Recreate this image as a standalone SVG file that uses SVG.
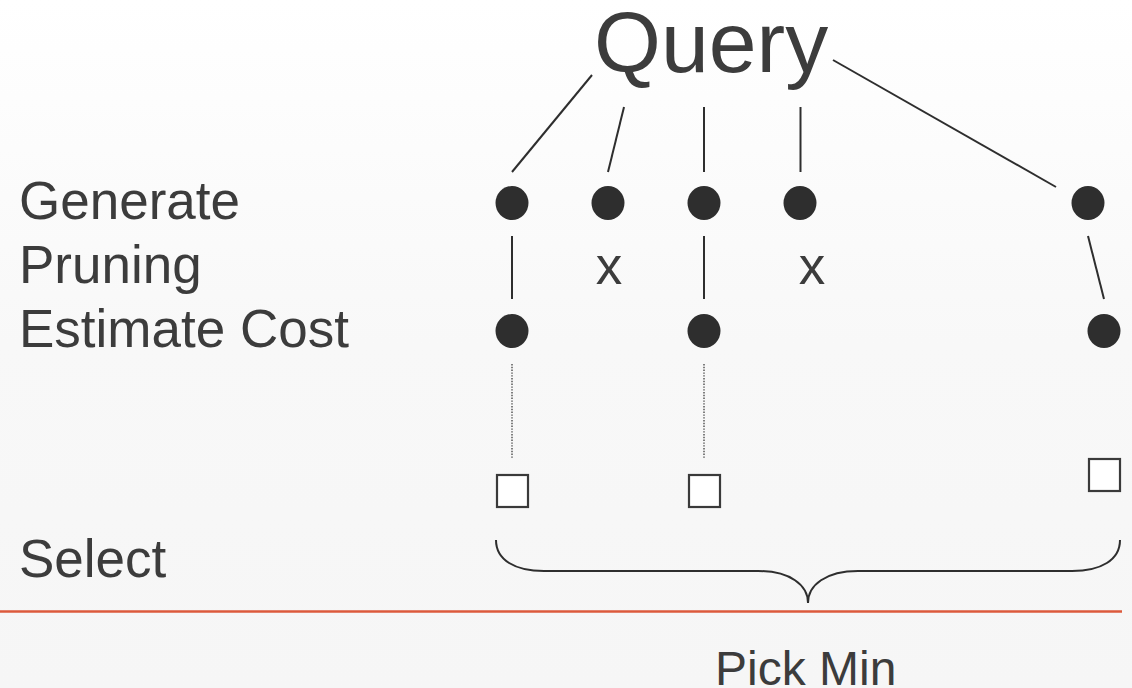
<svg xmlns="http://www.w3.org/2000/svg" width="1132" height="688" viewBox="0 0 1132 688">
<defs>
<linearGradient id="bg" x1="0" y1="0" x2="0" y2="1">
<stop offset="0" stop-color="#ffffff"/>
<stop offset="0.5" stop-color="#f8f8f8"/>
<stop offset="1" stop-color="#f6f6f6"/>
</linearGradient>
<style>
.t{font-family:"Liberation Sans",Arial,sans-serif;fill:#3c3c3c}
.lbl{font-size:53px}
.ln{stroke:#2e2e2e;stroke-width:2;fill:none}
.dot{fill:#2e2e2e}
.dt{stroke:#555;stroke-width:1.5;stroke-dasharray:1.4 1.4;fill:none}
.sq{fill:#ffffff;stroke:#3a3a3a;stroke-width:2.2}
</style>
</defs>
<rect x="0" y="0" width="1132" height="688" fill="url(#bg)"/>
<g id="labels">
<text class="t lbl" x="19" y="219">Generate</text>
<text class="t lbl" x="19" y="283">Pruning</text>
<text class="t lbl" x="19" y="347">Estimate Cost</text>
<text class="t lbl" x="19" y="577">Select</text>
</g>
<g id="query"><text class="t" x="594" y="72" font-size="86">Query</text></g>
<g id="connectors">
<line class="ln" x1="592" y1="75" x2="512" y2="172"/>
<line class="ln" x1="624" y1="107" x2="608" y2="172"/>
<line class="ln" x1="704" y1="107" x2="704" y2="172"/>
<line class="ln" x1="800.5" y1="107" x2="800.5" y2="172"/>
<line class="ln" x1="833" y1="60" x2="1056" y2="187"/>
<line class="ln" x1="512" y1="236" x2="512" y2="299"/>
<line class="ln" x1="704" y1="236" x2="704" y2="299"/>
<line class="ln" x1="1088" y1="236" x2="1104" y2="299"/>
<line class="dt" x1="512" y1="364" x2="512" y2="458"/>
<line class="dt" x1="704" y1="364" x2="704" y2="458"/>
</g>
<g id="gen-dots">
<ellipse class="dot" cx="512" cy="203" rx="16.5" ry="17"/>
<ellipse class="dot" cx="608" cy="203" rx="16.5" ry="17"/>
<ellipse class="dot" cx="704" cy="203" rx="16.5" ry="17"/>
<ellipse class="dot" cx="800" cy="203" rx="16.5" ry="17"/>
<ellipse class="dot" cx="1088" cy="203" rx="16.5" ry="17"/>
</g>
<g id="prune-marks">
<text class="t lbl" x="609" y="284" text-anchor="middle">x</text>
<text class="t lbl" x="812" y="284" text-anchor="middle">x</text>
</g>
<g id="cost-dots">
<ellipse class="dot" cx="512" cy="331" rx="16.5" ry="17"/>
<ellipse class="dot" cx="704" cy="331" rx="16.5" ry="17"/>
<ellipse class="dot" cx="1104" cy="331" rx="16.5" ry="17"/>
</g>
<g id="results">
<rect class="sq" x="497" y="475" width="31" height="32"/>
<rect class="sq" x="689" y="475" width="31" height="32"/>
<rect class="sq" x="1089" y="459" width="31" height="32"/>
</g>
<g id="brace">
<path class="ln" d="M496,540 C496,560 515,571 544,571 L758,571 C790,571 808,585 808,603 C808,585 826,571 858,571 L1072,571 C1101,571 1120,560 1120,540"/>
</g>
<line x1="0" y1="611.5" x2="1122" y2="611.5" stroke="#dc5a3c" stroke-width="2.6"/>
<g id="pickmin"><text class="t" x="715" y="685" font-size="48">Pick Min</text></g>
</svg>
